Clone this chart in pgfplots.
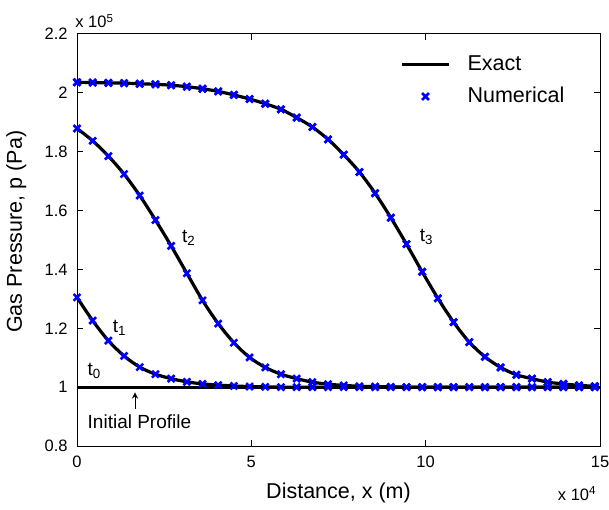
\documentclass[border=0pt]{standalone}
\usepackage{fontspec}
\setmainfont{Liberation Sans}
\usepackage{pgfplots}
\usepackage{pgfplotstable}
\pgfplotsset{compat=1.18}

\pgfplotstableread{
x t1 t2 t3
0 1.305 1.879 2.036
0.45 1.226 1.837 2.035
0.9 1.158 1.785 2.034
1.35 1.106 1.724 2.033
1.8 1.068 1.651 2.031
2.25 1.044 1.568 2.029
2.7 1.029 1.480 2.026
3.15 1.018 1.387 2.021
3.6 1.011 1.295 2.014
4.05 1.007 1.216 2.005
4.5 1.004 1.151 1.993
4.95 1.002 1.101 1.979
5.4 1.001 1.067 1.963
5.85 1.000 1.044 1.944
6.3 1.000 1.029 1.916
6.75 1.000 1.017 1.884
7.2 1.000 1.010 1.842
7.65 1.000 1.006 1.790
8.1 1.000 1.003 1.731
8.55 1.000 1.002 1.659
9.0 1.000 1.001 1.576
9.45 1.000 1.000 1.486
9.9 1.000 1.000 1.392
10.35 1.000 1.000 1.302
10.8 1.000 1.000 1.221
11.25 1.000 1.000 1.153
11.7 1.000 1.000 1.103
12.15 1.000 1.000 1.067
12.6 1.000 1.000 1.042
13.05 1.000 1.000 1.029
13.5 1.000 1.000 1.017
13.95 1.000 1.000 1.011
14.4 1.000 1.000 1.006
14.85 1.000 1.000 1.003
}\numdata

\pgfplotstableread{
x t0
0 1.0
15 1.0
}\initdata

\begin{document}
\begin{tikzpicture}
\useasboundingbox (-38.5pt,-31.5pt) rectangle (266pt,223pt);
\begin{axis}[
  at={(0pt,0pt)}, anchor=south west,
  scale only axis, width=261.5pt, height=206pt,
  xmin=0, xmax=15, ymin=0.8, ymax=2.2,
  xtick={0,5,10,15},
  ytick={0.8,1,1.2,1.4,1.6,1.8,2,2.2},
  yticklabels={0.8,1,1.2,1.4,1.6,1.8,2,2.2},
  scaled ticks=false,
  /pgf/number format/assume math mode=true,
  axis line style={line width=0.5pt},
  major tick length=3pt,
  tick style={black, line width=0.5pt},
  tick align=inside,
  tick label style={font=\fontsize{8.25}{10}\selectfont, inner sep=0pt},
  xticklabel style={yshift=-5pt},
  yticklabel style={xshift=-4.5pt},
  every axis x label/.style={at={(axis description cs:0.5,0)}, yshift=-26pt, anchor=base},
  every axis y label/.style={at={(axis description cs:-0.116,0.52)}, rotate=90, anchor=center},
  label style={font=\fontsize{10.75}{12}\selectfont},
  xlabel={Distance, x (m)},
  ylabel={Gas Pressure, p (Pa)},
  legend style={draw=none, fill=none, inner sep=0pt, at={(rel axis cs:0.6176,0.949)}, anchor=north west,
    font=\fontsize{10.75}{12}\selectfont, row sep=7pt, column sep=8.5pt,
    nodes={inner sep=0pt}},
  legend cell align=left,
  legend image code/.code={\draw[#1, mark repeat=2, mark phase=2] plot coordinates {(0pt,0pt) (11.75pt,0pt) (23.5pt,0pt)};},
  clip=false,
]
\addplot[black, line width=1.6pt, smooth] table[x=x, y=t0] {\initdata};
\addlegendentry{Exact}
\addplot[blue, only marks, mark=x, mark size=2.4pt, mark options={line width=1.3pt}] table[x=x, y=t3] {\numdata};
\addlegendentry{Numerical}
\addplot[black, line width=1.6pt, smooth, forget plot] table[x=x, y=t1] {\numdata};
\addplot[black, line width=1.6pt, smooth, forget plot] table[x=x, y=t2] {\numdata};
\addplot[black, line width=1.6pt, smooth, forget plot] table[x=x, y=t3] {\numdata};
\addplot[blue, only marks, mark=x, mark size=2.4pt, mark options={line width=1.3pt}, forget plot] table[x=x, y=t1] {\numdata};
\addplot[blue, only marks, mark=x, mark size=2.4pt, mark options={line width=1.3pt}, forget plot] table[x=x, y=t2] {\numdata};
\addplot[blue, only marks, mark=x, mark size=2.4pt, mark options={line width=1.3pt}, forget plot] table[x=x, y=t3] {\numdata};

\node[anchor=base west, inner sep=0pt, font=\fontsize{9.5}{11}\selectfont] at (axis cs:0.29,1.040) {t\textsubscript{0}};
\node[anchor=base west, inner sep=0pt, font=\fontsize{9.5}{11}\selectfont] at (axis cs:1.02,1.187) {t\textsubscript{1}};
\node[anchor=base west, inner sep=0pt, font=\fontsize{9.5}{11}\selectfont] at (axis cs:3.0,1.492) {t\textsubscript{2}};
\node[anchor=base west, inner sep=0pt, font=\fontsize{9.5}{11}\selectfont] at (axis cs:9.82,1.494) {t\textsubscript{3}};
\node[anchor=base west, inner sep=0pt, font=\fontsize{9.5}{11}\selectfont] at (axis cs:0.295,0.860) {Initial Profile};
\draw[->, line width=0.4pt, >=stealth] (axis cs:1.663,0.927) -- (axis cs:1.663,0.982);

\node[anchor=base west, inner sep=0pt, font=\fontsize{8.25}{10}\selectfont] at (rel axis cs:0,1) [xshift=-1pt, yshift=3pt] {x 10\textsuperscript{5}};
\node[anchor=base east, inner sep=0pt, font=\fontsize{8.25}{10}\selectfont] at (rel axis cs:1,0) [xshift=-1.5pt, yshift=-27pt] {x 10\textsuperscript{4}};
\end{axis}
\end{tikzpicture}
\end{document}
